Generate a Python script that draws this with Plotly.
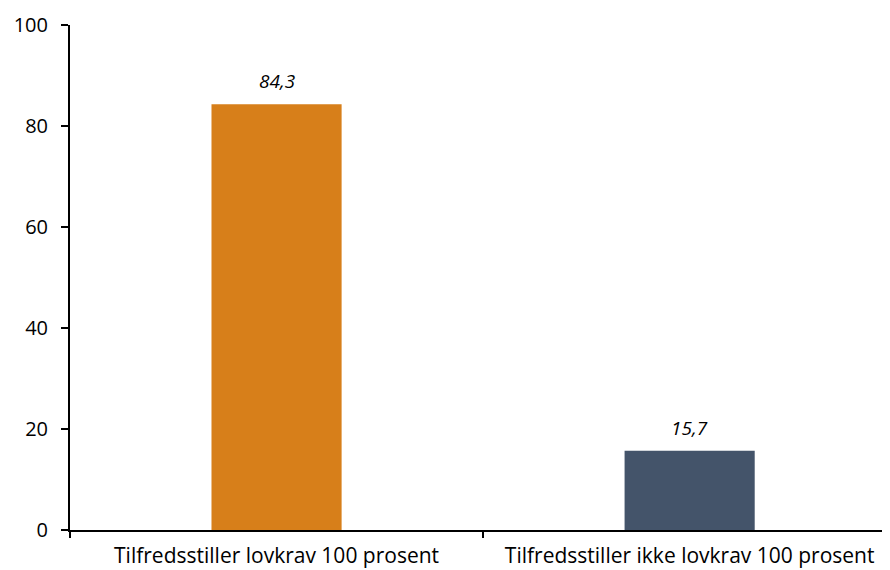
import plotly.graph_objects as go

categories = ["Tilfredsstiller lovkrav 100 prosent", "Tilfredsstiller ikke lovkrav 100 prosent"]
values = [84.3, 15.7]
colors = ["#D77F1A", "#44546A"]
y_ticks = [0, 20, 40, 60, 80, 100]

labels = [f"{v:.1f}".replace(".", ",") for v in values]

FONT = "Open Sans"

fig = go.Figure()
fig.add_trace(go.Bar(
    x=categories, y=values, marker=dict(color=colors, line=dict(width=0)),
    width=0.315, showlegend=False, hoverinfo="skip",
))
for c, v, t in zip(categories, values, labels):
    fig.add_annotation(x=c, y=v, text=f"<i>{t}</i>", showarrow=False,
                       yanchor="bottom", yshift=8,
                       font=dict(family=FONT, size=19, color="#000000"))

# page body has an 8px margin, so the figure is sized to fit the 890x570 window
fig.update_layout(
    width=882, height=562,
    margin=dict(l=62, r=0, t=17, b=40),
    paper_bgcolor="white", plot_bgcolor="white",
    font=dict(family=FONT, size=21, color="#000000"),
    xaxis=dict(
        range=[-0.5, 1.485], showline=True, linecolor="#000000", linewidth=2,
        ticks="outside", tickson="boundaries", ticklen=6, tickwidth=2, tickcolor="#000000",
        showgrid=False, zeroline=False, ticklabelstandoff=6, automargin=False,
        tickfont=dict(family=FONT, size=21),
    ),
    yaxis=dict(
        range=[0, 100], tickvals=y_ticks, showline=True, linecolor="#000000", linewidth=2,
        ticks="outside", ticklen=7, tickwidth=2, tickcolor="#000000",
        showgrid=False, zeroline=False, ticklabelstandoff=9, automargin=False,
        tickfont=dict(family=FONT, size=20),
    ),
)

fig.write_html("out.html")
